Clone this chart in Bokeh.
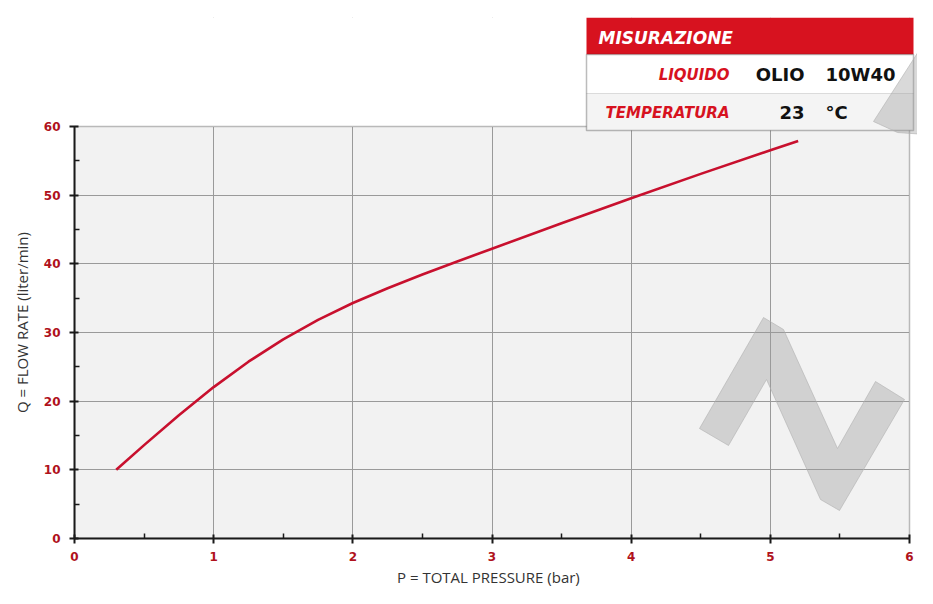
from bokeh.plotting import figure
from bokeh.models import Range1d, BoxAnnotation, Label, PolyAnnotation, FixedTicker, Title
from bokeh.embed import file_html
from bokeh.resources import INLINE

# ---------------- data ----------------
pressure_bar = [0.3, 0.5, 0.75, 1.0, 1.25, 1.5, 1.75, 2.0, 2.25, 2.5, 2.75, 3.0, 3.5, 4.0, 4.5, 5.0, 5.2]
flow_lpm = [10.0, 13.6, 17.95, 22.05, 25.75, 29.0, 31.85, 34.3, 36.45, 38.45, 40.35, 42.2,
            45.9, 49.55, 53.1, 56.55, 57.9]
x_ticks = [0, 1, 2, 3, 4, 5, 6]
x_minor = [0.5, 1.5, 2.5, 3.5, 4.5, 5.5]
y_ticks = [0, 10, 20, 30, 40, 50, 60]
y_minor = [5, 15, 25, 35, 45, 55]
x_title = "P = TOTAL PRESSURE (bar)"
y_title = "Q = FLOW RATE (liter/min)"
table_title = "MISURAZIONE"
row_labels = ["LIQUIDO", "TEMPERATURA"]
row_values = ["OLIO", "23"]
row_units = ["10W40", "°C"]

RED = "#d7121f"
TICK_RED = "#b0121c"

# ---------------- layout (page pixels) ----------------
W, H = 917, 588                # canvas; page offset 8px
PLOT_L, PLOT_R = 82, 917       # data area x = 0 .. 6
PLOT_T, PLOT_B = 134, 546      # data area y = 60 .. 0
FRAME_T, FRAME_R = 25, 925     # frame extends up/right so the table can be drawn
X_TITLE_CX, X_TITLE_LEN = 496, 183
Y_TITLE_CY, Y_TITLE_LEN = 330, 181
x0, x1 = x_ticks[0], x_ticks[-1]
y0, y1 = y_ticks[0], y_ticks[-1]
x_end = x0 + (x1 - x0) * (FRAME_R - PLOT_L) / (PLOT_R - PLOT_L)
y_end = y0 + (y1 - y0) * (PLOT_B - FRAME_T) / (PLOT_B - PLOT_T)

p = figure(width=W, height=H, x_range=Range1d(x0, x_end), y_range=Range1d(y0, y_end),
           output_backend="svg", toolbar_location=None,
           min_border_left=PLOT_L - 8, min_border_right=8 + W - FRAME_R,
           min_border_top=FRAME_T - 8, min_border_bottom=8 + H - PLOT_B,
           background_fill_color="white", border_fill_color="white",
           outline_line_color=None)

# data-area background
p.add_layout(BoxAnnotation(left=x0, right=x1, bottom=y0, top=y1, fill_color="#f2f2f2", fill_alpha=1,
                           line_alpha=0, level="image"))

for ax, ticks, minor, bnds in ((p.xaxis[0], x_ticks, x_minor, (x0, x1)),
                               (p.yaxis[0], y_ticks, y_minor, (y0, y1))):
    ax.ticker = FixedTicker(ticks=ticks, minor_ticks=minor)
    ax.bounds = bnds
    ax.axis_line_color = "#1a1a1a"
    ax.axis_line_width = 2
    ax.major_tick_line_color = "#1a1a1a"
    ax.major_tick_line_width = 2
    ax.major_tick_in = 4
    ax.major_tick_out = 5
    ax.minor_tick_line_color = "#1a1a1a"
    ax.minor_tick_line_width = 1.5
    ax.minor_tick_in = 5
    ax.minor_tick_out = 0
    ax.major_label_text_font = "DejaVu Sans"
    ax.major_label_text_font_style = "bold"
    ax.major_label_text_font_size = "12px"
    ax.major_label_text_color = TICK_RED
p.xaxis.major_label_standoff = 8
p.yaxis.major_label_standoff = 9

# axis titles, positioned on the data area (not the enlarged frame)
title_style = dict(text_font="Open Sans", text_font_style="normal", text_font_size="15px",
                   text_color="#333333", align="left")
p.add_layout(Title(text=y_title, offset=PLOT_B - Y_TITLE_CY - Y_TITLE_LEN / 2, standoff=17,
                   **title_style), "left")
p.add_layout(Title(text=x_title, offset=X_TITLE_CX - PLOT_L - X_TITLE_LEN / 2, standoff=2,
                   **title_style), "below")

p.xgrid.ticker = FixedTicker(ticks=x_ticks)
p.ygrid.ticker = FixedTicker(ticks=y_ticks)
p.grid.grid_line_color = "#9a9a9a"
p.grid.grid_line_width = 1

# white masks hiding grid lines outside the data area, then the grey top/right border
p.add_layout(BoxAnnotation(bottom=y1, fill_color="white", fill_alpha=1, line_alpha=0, level="underlay"))
p.add_layout(BoxAnnotation(left=x1, fill_color="white", fill_alpha=1, line_alpha=0, level="underlay"))
p.add_layout(BoxAnnotation(left=x0, right=x1, bottom=y0, top=y1, fill_alpha=0,
                           line_color="#8c8c8c", line_width=2, level="underlay"))

p.line(pressure_bar, flow_lpm, line_color="#c8102e", line_width=2.6, line_join="round")

# ---------- screen helpers (reference page pixels -> frame screen units) ----------
def sx(X):
    return X - PLOT_L


def sy(Y):
    return PLOT_B - Y


def box(xa, ya, xb, yb, **kw):
    return BoxAnnotation(left=sx(xa), right=sx(xb), top=sy(ya), bottom=sy(yb),
                         left_units="screen", right_units="screen",
                         top_units="screen", bottom_units="screen", level="overlay", **kw)


def label(X, Y, text, **kw):
    return Label(x=sx(X), y=sy(Y), x_units="screen", y_units="screen", text=text,
                 text_baseline="middle", level="overlay", **kw)


def poly(pts, **kw):
    return PolyAnnotation(xs=[sx(a) for a, b in pts], ys=[sy(b) for a, b in pts],
                          xs_units="screen", ys_units="screen", level="overlay", **kw)


# ---------------- info table ----------------
p.add_layout(box(594, 25, 921, 62, fill_color=RED, fill_alpha=1, line_alpha=0))
p.add_layout(box(594, 62, 921, 101, fill_color="white", fill_alpha=1, line_alpha=0))
p.add_layout(box(594, 101, 921, 138, fill_color="#f4f4f4", fill_alpha=1, line_alpha=0))
p.add_layout(box(594, 101, 921, 101.5, fill_color="#bdbdbd", fill_alpha=1, line_alpha=0))
p.add_layout(box(594, 62, 921, 138, fill_alpha=0, line_color="#222222", line_width=1.5))

p.add_layout(label(606, 45, table_title, text_color="white", text_font="DejaVu Sans",
                   text_font_style="bold italic", text_font_size="17px", text_align="left"))
row_y = [82, 120]
for i in range(2):
    p.add_layout(label(737, row_y[i], row_labels[i], text_color=RED, text_font="DejaVu Sans",
                       text_font_style="bold italic", text_font_size="15px", text_align="right"))
    p.add_layout(label(812, row_y[i], row_values[i], text_color="#111111", text_font="DejaVu Sans",
                       text_font_style="bold", text_font_size="18px", text_align="right"))
    p.add_layout(label(833, row_y[i], row_units[i], text_color="#111111", text_font="DejaVu Sans",
                       text_font_style="bold", text_font_size="18px", text_align="left"))

# ---------------- watermark shapes ----------------
wm = dict(fill_color="#9a9a9a", fill_alpha=0.38, line_color="#b0b0b0", line_alpha=0.6, line_width=1)
p.add_layout(poly([(707, 436), (771, 325), (791, 337), (845, 456), (883, 389), (912, 407),
                   (847, 518), (828, 507), (774, 387), (736, 453)], **wm))
p.add_layout(poly([(881, 129), (933, 48), (933, 142), (905, 140)], **wm))

open("out.html", "w").write(file_html(p, INLINE))
